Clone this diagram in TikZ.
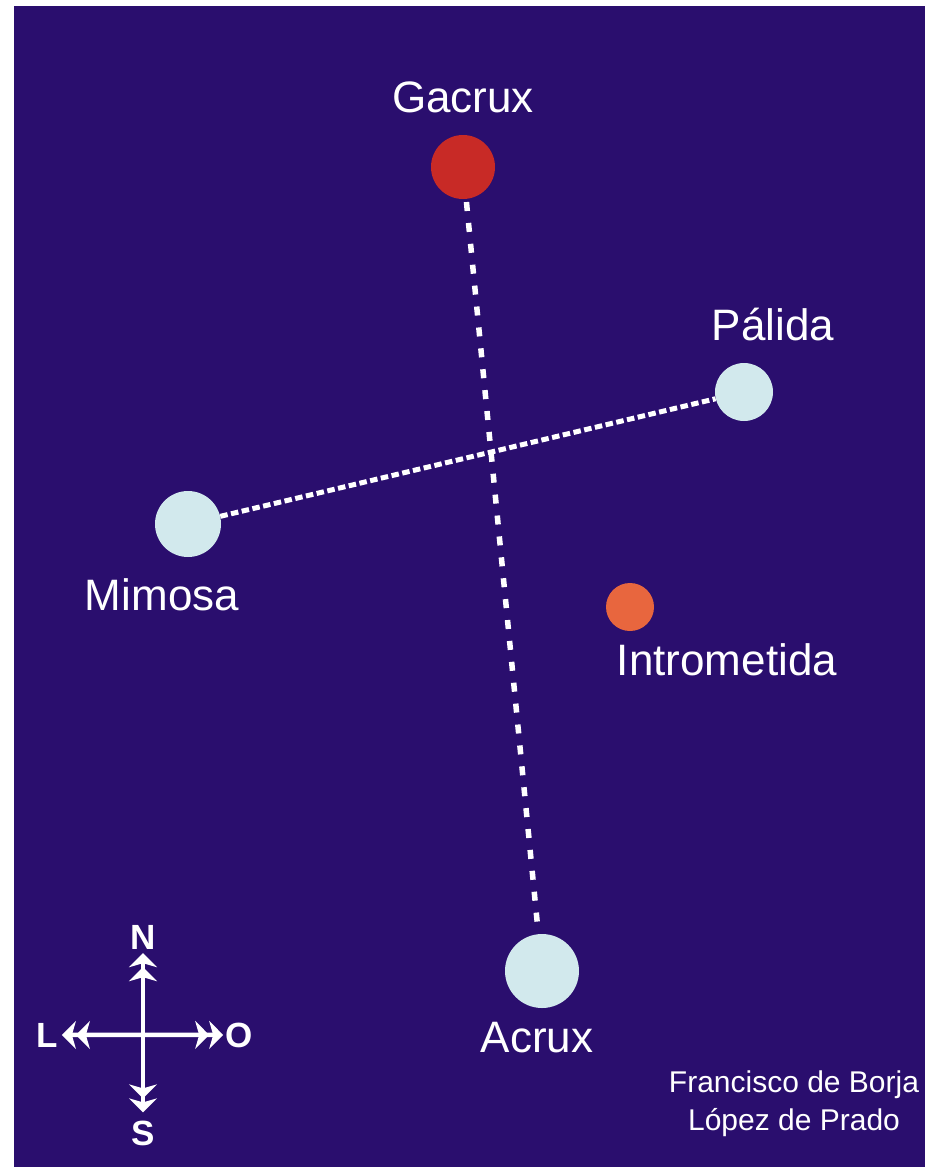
\documentclass[tikz,border=0pt]{standalone}
\usepackage{fontspec}
\setmainfont{Liberation Sans}
\usepackage{xcolor}
\usepackage{tikz}
\usetikzlibrary{arrows.meta, positioning}
\definecolor{nightsky}{RGB}{42, 14, 110}
\definecolor{palestar}{RGB}{210, 233, 237}
\definecolor{redstar}{RGB}{200, 42, 38}
\definecolor{orangestar}{RGB}{232, 102, 62}
\tikzset{
    starnode/.style = {circle, fill=palestar, inner sep = 0em, node distance=0em},
    namenode/.style = {draw=none, fill=none, text=white, rectangle, inner sep = 0em, anchor=base,
      font=\fontsize{44}{50}\selectfont},
    creditnode/.style = {draw=none, fill=none, text=white, rectangle, inner sep = 0em,
      align=center, font=\fontsize{30}{38}\selectfont},
    compassnode/.style = {draw=none, fill=none, text=white, rectangle, inner sep = 0em, anchor=base,
      font=\fontsize{35}{40}\selectfont\bfseries},
    dashline/.style = {white, line width=5.5pt},
    compassarrow/.style = {white, line width=4.5pt,
      arrows = {Stealth[length=14pt 0, width=28pt 0, inset=4pt 0]Stealth[length=14pt 0, width=28pt 0, inset=4pt 0]
        -Stealth[length=14pt 0, width=28pt 0, inset=4pt 0]Stealth[length=14pt 0, width=28pt 0, inset=4pt 0]}}
}

\begin{document}
\begin{tikzpicture}[x=1pt, y=-1pt]
    \useasboundingbox (0,0) rectangle (925,1167);
    \fill [white] (0,0) rectangle (925,1167);
    \fill [nightsky] (14,6) rectangle (925,1167);

    \node [name = Gacrux, starnode, fill=redstar, minimum size=64pt] at (463,167) {};
    \node [name = Palida, starnode, minimum size=58pt] at (744,392) {};
    \node [name = Mimosa, starnode, minimum size=66pt] at (188,524) {};
    \node [name = Intrometida, starnode, fill=orangestar, minimum size=48pt] at (630,607) {};
    \node [name = Acrux, starnode, minimum size=74pt] at (542,971) {};

    \node [name = GacruxName, namenode] at (463,112) {Gacrux};
    \node [name = PalidaName, namenode] at (773,340) {Pálida};
    \node [name = MimosaName, namenode] at (162,610) {Mimosa};
    \node [name = IntrometidaName, namenode] at (727,675) {Intrometida};
    \node [name = AcruxName, namenode] at (537,1052) {Acrux};

    \draw [dashline, dash pattern=on 9pt off 12pt, shorten <= 3pt, shorten >= 6pt] (Gacrux) -- (Acrux);
    \draw [dashline, line width=5pt, dash pattern=on 7.5pt off 3.5pt] (Mimosa) -- (Palida);

    % compass
    \node [name = N, compassnode] at (143,949) {N};
    \node [name = S, compassnode] at (143,1145) {S};
    \node [name = L, compassnode] at (47,1047) {L};
    \node [name = O, compassnode] at (239,1047) {O};
    \draw [compassarrow, shorten <= 4pt, shorten >= 8pt] (N.south) -- (S.north);
    \draw [compassarrow, shorten <= 4pt, shorten >= 2pt] (L.east) -- (O.west);

    \node [name = Credit, creditnode] at (794,1104) {Francisco de Borja\\López de Prado};
\end{tikzpicture}
\end{document}
